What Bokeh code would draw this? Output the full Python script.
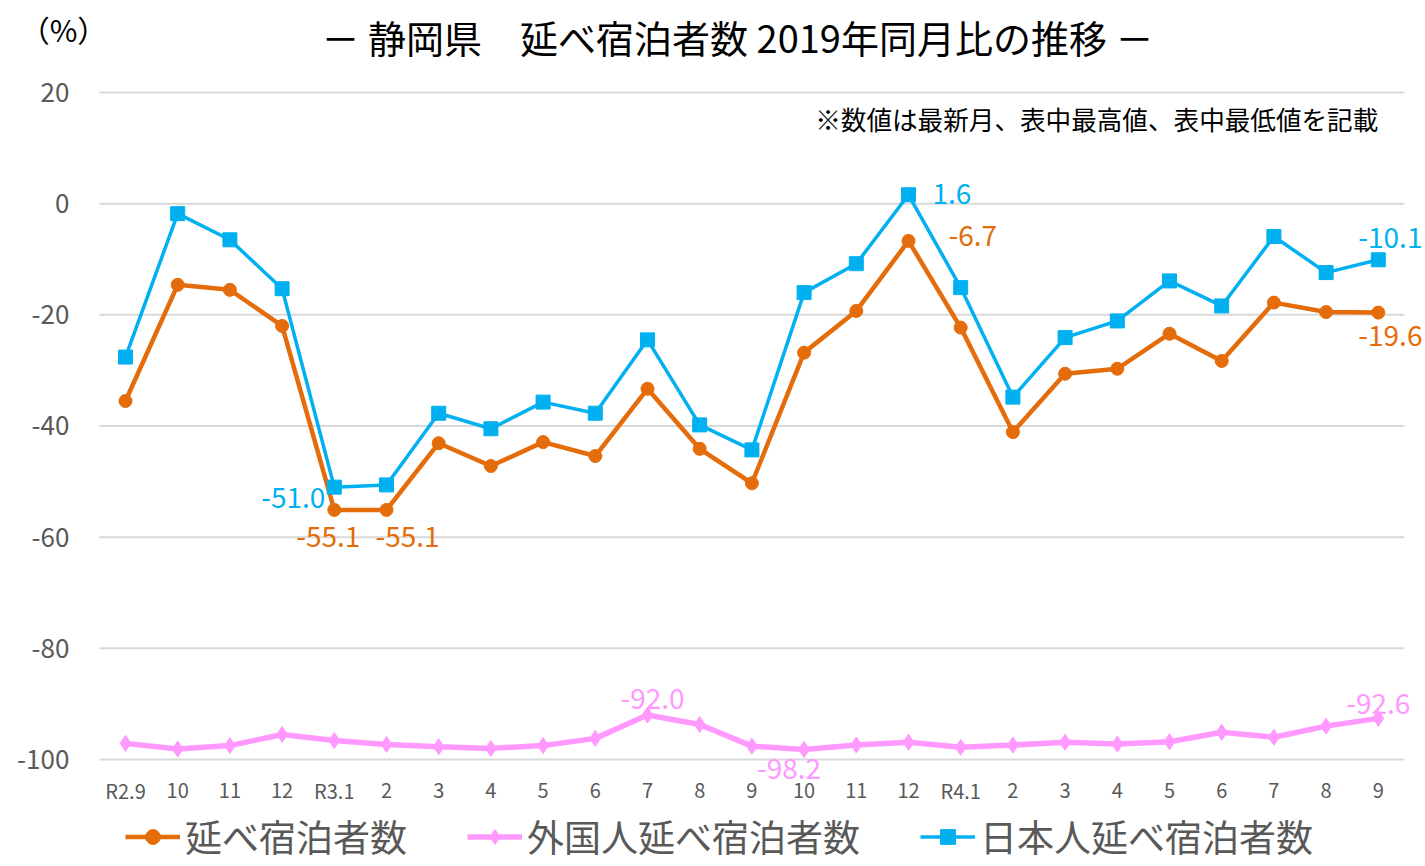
from bokeh.plotting import figure
from bokeh.models import Range1d, Label, Legend, LegendItem
from bokeh.embed import file_html
from bokeh.resources import INLINE

months = ["R2.9", "10", "11", "12", "R3.1", "2", "3", "4", "5", "6", "7", "8", "9",
          "10", "11", "12", "R4.1", "2", "3", "4", "5", "6", "7", "8", "9"]
total = [-35.5, -14.6, -15.5, -22.0, -55.1, -55.1, -43.1, -47.2, -42.9, -45.4, -33.3, -44.1, -50.3,
         -26.8, -19.3, -6.7, -22.3, -41.1, -30.6, -29.7, -23.4, -28.3, -17.8, -19.5, -19.6]
foreign = [-97.1, -98.1, -97.5, -95.5, -96.6, -97.3, -97.7, -98.0, -97.5, -96.2, -92.0, -93.7, -97.6,
           -98.2, -97.4, -96.9, -97.8, -97.4, -96.9, -97.2, -96.8, -95.1, -96.0, -94.0, -92.6]
japanese = [-27.6, -1.8, -6.5, -15.3, -51.0, -50.6, -37.7, -40.5, -35.7, -37.7, -24.5, -39.8, -44.3,
            -16.0, -10.8, 1.6, -15.1, -34.8, -24.1, -21.1, -13.9, -18.4, -5.9, -12.4, -10.1]
y_ticks = [-100, -80, -60, -40, -20, 0, 20]
series_names = ["延べ宿泊者数", "外国人延べ宿泊者数", "日本人延べ宿泊者数"]
title_text = "－ 静岡県　延べ宿泊者数 2019年同月比の推移 －"
note_text = "※数値は最新月、表中最高値、表中最低値を記載"
unit_text = "（%）"

ORANGE = "#E46C0A"
PINK = "#FF99FF"
BLUE = "#00B0F0"
GRAY = "#595959"
GRID = "#D9D9D9"
FONT = "Noto Sans CJK JP"

n = len(months)
xs = list(range(n))
W, H = 1425, 866
px_x = 52.2          # pixels per category
px_y = 5.558         # pixels per percent
x0_px, y20_px, y100_px = 125, 92, 759

p = figure(width=W, height=H, output_backend="svg", toolbar_location=None,
           x_range=Range1d(-x0_px / px_x, (W - x0_px) / px_x),
           y_range=Range1d(-100 - (H - y100_px) / px_y, 20 + y20_px / px_y),
           min_border_left=0, min_border_right=0, min_border_top=0, min_border_bottom=0)
p.outline_line_color = None
p.grid.visible = False
p.axis.visible = False

# horizontal gridlines at the y ticks, spanning the category area
p.segment(x0=[-0.5] * len(y_ticks), x1=[n - 0.5] * len(y_ticks), y0=y_ticks, y1=y_ticks,
          line_color=GRID, line_width=2)

# tick labels
p.text(x=[-0.5] * len(y_ticks), y=y_ticks, text=[str(t) for t in y_ticks], x_offset=-30,
       text_align="right", text_baseline="middle", text_font={"value": FONT},
       text_font_size="26px", text_color=GRAY)
p.text(x=xs, y=[-100] * n, text=months, y_offset=31, text_align="center",
       text_baseline="middle", text_font={"value": FONT}, text_font_size="20px",
       text_color=GRAY)

r_or_l = p.line(xs, total, line_color=ORANGE, line_width=4.5)
r_or_s = p.scatter(xs, total, marker="circle", size=13, fill_color=ORANGE, line_color=ORANGE)
r_pk_l = p.line(xs, foreign, line_color=PINK, line_width=5.5)
r_pk_s = p.scatter(xs, foreign, marker="diamond", size=16, fill_color=PINK, line_color=PINK)
r_bl_l = p.line(xs, japanese, line_color=BLUE, line_width=3.5)
r_bl_s = p.scatter(xs, japanese, marker="square", size=14, fill_color=BLUE, line_color=BLUE)


def dlabel(i, vals, color, dx, dy, align="center"):
    p.add_layout(Label(x=i, y=vals[i], text=f"{vals[i]:.1f}", x_offset=dx, y_offset=dy,
                       text_align=align, text_baseline="middle", text_color=color,
                       text_font=FONT, text_font_size="28px"))


dlabel(4, japanese, BLUE, -9, -10, "right")
dlabel(4, total, ORANGE, -6, -27)
dlabel(5, total, ORANGE, 21, -27)
dlabel(15, japanese, BLUE, 24, 1, "left")
dlabel(15, total, ORANGE, 40, 5, "left")
dlabel(24, japanese, BLUE, -20, 22, "left")
dlabel(24, total, ORANGE, -20, -23, "left")
dlabel(10, foreign, PINK, 5, 17)
dlabel(13, foreign, PINK, -15, -19)
dlabel(24, foreign, PINK, 0, 15)

p.add_layout(Label(x=(737 - x0_px) / px_x, y=20 + (y20_px - 36) / px_y, text=title_text,
                   text_align="center", text_baseline="middle",
                   text_font=FONT, text_font_size="38px", text_color="#000000"))
p.add_layout(Label(x=(63 - x0_px) / px_x, y=20 + (y20_px - 28) / px_y, text=unit_text,
                   text_align="center", text_baseline="middle",
                   text_font=FONT, text_font_size="30px", text_color="#000000"))
p.add_layout(Label(x=n - 1, y=20 + (y20_px - 118) / px_y, text=note_text,
                   text_align="right", text_baseline="middle",
                   text_font=FONT, text_font_size="25.6px", text_color="#000000"))

legend = Legend(items=[LegendItem(label=series_names[0], renderers=[r_or_l, r_or_s]),
                       LegendItem(label=series_names[1], renderers=[r_pk_l, r_pk_s]),
                       LegendItem(label=series_names[2], renderers=[r_bl_l, r_bl_s])],
                location=(125, 3), orientation="horizontal", border_line_color=None,
                background_fill_alpha=0, padding=0, margin=0, spacing=60, glyph_width=55,
                glyph_height=37, label_standoff=5, label_height=37, label_text_font=FONT,
                label_text_font_size="37px", label_text_color=GRAY, label_text_baseline="middle")
p.add_layout(legend, "center")

open("out.html", "w").write(file_html(p, INLINE))
